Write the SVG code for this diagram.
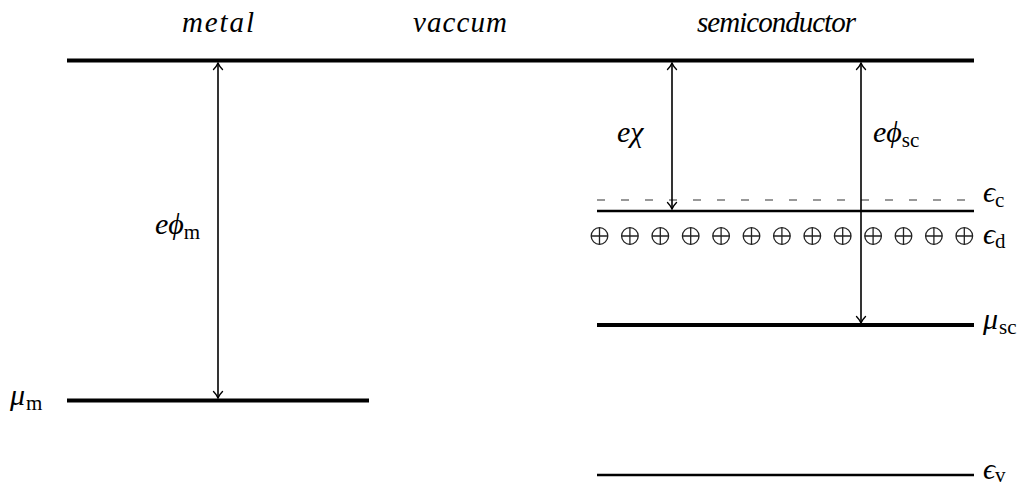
<svg xmlns="http://www.w3.org/2000/svg" width="1023" height="487" viewBox="0 0 1023 487">
<style>
text{font-family:'Liberation Serif','DejaVu Serif',serif;fill:#000}
.lbl{font-size:29px;font-style:italic}
.m{font-size:30px;font-style:italic}
.sub{font-size:21px;font-style:normal}
.thick{stroke:#000;stroke-width:4;fill:none}
.mid{stroke:#000;stroke-width:2.6;fill:none}
.dash{stroke:#333;stroke-width:1.1;stroke-dasharray:8 16;fill:none}
.arr{stroke:#000;stroke-width:1.6;fill:none;marker-start:url(#ah);marker-end:url(#ah)}
.op{stroke:#222;stroke-width:1.3;fill:none}
</style>
<defs>
<marker id="ah" viewBox="-8 -6 10 12" markerWidth="10" markerHeight="12" refX="0" refY="0" orient="auto-start-reverse" markerUnits="userSpaceOnUse">
<path d="M -6.5,-4.5 C -4,-2 -1.5,-0.6 0,0 C -1.5,0.6 -4,2 -6.5,4.5" stroke="#000" stroke-width="1.4" fill="none" stroke-linecap="round"/>
</marker>
</defs>
<rect width="1023" height="487" fill="#fff"/>

<g id="region-labels">
<text class="lbl" x="182" y="32" textLength="72">metal</text>
<text class="lbl" x="413" y="32" textLength="94">vaccum</text>
<text class="lbl" x="697" y="32" textLength="159">semiconductor</text>
</g>

<g id="vacuum-level"><line class="thick" x1="67" y1="60.5" x2="974" y2="60.5"/></g>

<g id="metal-fermi">
<line class="thick" x1="67" y1="400.5" x2="369" y2="400.5"/>
<text class="m" x="10" y="405">μ<tspan class="sub" dx="1" dy="5">m</tspan></text>
</g>

<g id="conduction-edge">
<line class="dash" x1="597" y1="200" x2="974" y2="200"/>
<text class="m" x="983" y="202">ϵ<tspan class="sub" dy="5">c</tspan></text>
</g>

<g id="conduction-band">
<line class="mid" x1="597" y1="211" x2="974" y2="211"/>
</g>

<g id="donors">
<g class="op">
<circle cx="599.5" cy="236" r="8.3"/><circle cx="629.9" cy="236" r="8.3"/><circle cx="660.3" cy="236" r="8.3"/><circle cx="690.7" cy="236" r="8.3"/><circle cx="721.1" cy="236" r="8.3"/><circle cx="751.5" cy="236" r="8.3"/><circle cx="781.9" cy="236" r="8.3"/><circle cx="812.3" cy="236" r="8.3"/><circle cx="842.7" cy="236" r="8.3"/><circle cx="873.1" cy="236" r="8.3"/><circle cx="903.5" cy="236" r="8.3"/><circle cx="933.9" cy="236" r="8.3"/><circle cx="964.3" cy="236" r="8.3"/>
<path d="M591.2,236h16.6M621.6,236h16.6M652,236h16.6M682.4,236h16.6M712.8,236h16.6M743.2,236h16.6M773.6,236h16.6M804,236h16.6M834.4,236h16.6M864.8,236h16.6M895.2,236h16.6M925.6,236h16.6M956,236h16.6"/>
<path d="M599.5,227.7v16.6M629.9,227.7v16.6M660.3,227.7v16.6M690.7,227.7v16.6M721.1,227.7v16.6M751.5,227.7v16.6M781.9,227.7v16.6M812.3,227.7v16.6M842.7,227.7v16.6M873.1,227.7v16.6M903.5,227.7v16.6M933.9,227.7v16.6M964.3,227.7v16.6"/>
</g>
<text class="m" x="983" y="244">ϵ<tspan class="sub" dy="4">d</tspan></text>
</g>

<g id="sc-fermi">
<line class="thick" x1="597" y1="325" x2="974" y2="325"/>
<text class="m" x="983" y="329">μ<tspan class="sub" dx="1" dy="5">sc</tspan></text>
</g>

<g id="valence-band">
<line class="mid" x1="597" y1="475" x2="974" y2="475"/>
<text class="m" x="983" y="479">ϵ<tspan class="sub" dy="3">v</tspan></text>
</g>

<g id="connectors">
<line class="arr" x1="218" y1="63" x2="218" y2="398"/>
<line class="arr" x1="672" y1="63" x2="672" y2="209"/>
<line class="arr" x1="861" y1="63" x2="861" y2="323"/>
</g>

<g id="arrow-labels">
<text class="m" x="155" y="234">eϕ<tspan class="sub" dy="5">m</tspan></text>
<text class="m" x="617" y="142">eχ</text>
<text class="m" x="873" y="142">eϕ<tspan class="sub" dy="5">sc</tspan></text>
</g>
</svg>
